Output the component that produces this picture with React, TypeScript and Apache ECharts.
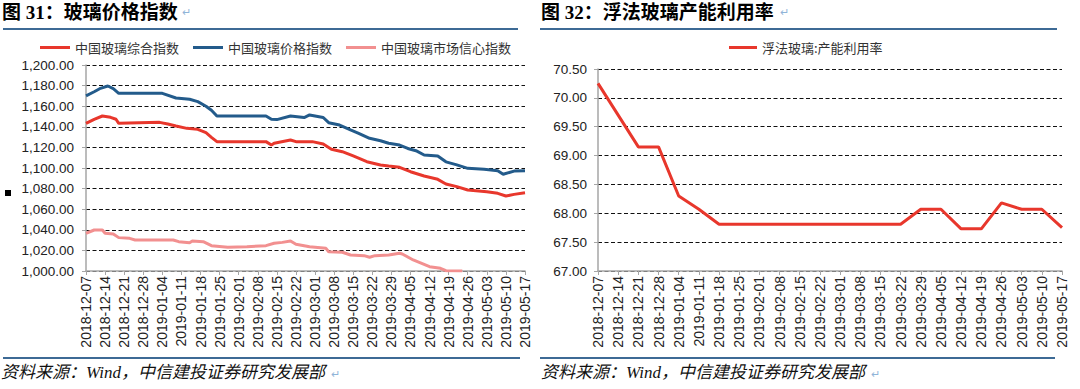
import React, { useEffect, useRef } from "react";
import * as echarts from "echarts";

// ---------- data ----------
const START_DATE = "2018-12-07";

const weekLabels = [
  "2018-12-07", "2018-12-14", "2018-12-21", "2018-12-28", "2019-01-04", "2019-01-11",
  "2019-01-18", "2019-01-25", "2019-02-01", "2019-02-08", "2019-02-15", "2019-02-22",
  "2019-03-01", "2019-03-08", "2019-03-15", "2019-03-22", "2019-03-29", "2019-04-05",
  "2019-04-12", "2019-04-19", "2019-04-26", "2019-05-03", "2019-05-10", "2019-05-17",
];

const compositeName = "中国玻璃综合指数";
const priceName = "中国玻璃价格指数";
const confidenceName = "中国玻璃市场信心指数";
const utilName = "浮法玻璃:产能利用率";

const compositeIndex: [string, number][] = [
  ["2018-12-07", 1143.4], ["2018-12-10", 1147.3], ["2018-12-13", 1150.5], ["2018-12-16", 1149.2],
  ["2018-12-18", 1147.3], ["2018-12-19", 1143.4], ["2019-01-03", 1144.3], ["2019-01-06", 1142.7],
  ["2019-01-09", 1140.8], ["2019-01-13", 1138.5], ["2019-01-17", 1137.5], ["2019-01-20", 1134.3],
  ["2019-01-22", 1129.8], ["2019-01-24", 1125.6], ["2019-02-11", 1125.6], ["2019-02-13", 1122.3],
  ["2019-02-14", 1124.0], ["2019-02-20", 1127.2], ["2019-02-22", 1125.6], ["2019-02-28", 1125.6],
  ["2019-03-04", 1123.3], ["2019-03-07", 1118.2], ["2019-03-11", 1115.8], ["2019-03-15", 1111.7],
  ["2019-03-20", 1106.1], ["2019-03-25", 1102.9], ["2019-03-28", 1101.9], ["2019-04-01", 1100.7],
  ["2019-04-05", 1096.4], ["2019-04-10", 1092.2], ["2019-04-15", 1089.0], ["2019-04-18", 1084.5],
  ["2019-04-22", 1081.9], ["2019-04-26", 1078.6], ["2019-05-03", 1077.0], ["2019-05-07", 1075.4],
  ["2019-05-10", 1072.8], ["2019-05-13", 1074.4], ["2019-05-17", 1076.0],
];

const priceIndex: [string, number][] = [
  ["2018-12-07", 1170.0], ["2018-12-10", 1174.0], ["2018-12-12", 1177.0], ["2018-12-15", 1179.6],
  ["2018-12-17", 1177.0], ["2018-12-19", 1172.5], ["2019-01-04", 1172.5], ["2019-01-09", 1168.0],
  ["2019-01-14", 1166.7], ["2019-01-17", 1164.4], ["2019-01-20", 1160.0], ["2019-01-22", 1156.0],
  ["2019-01-24", 1150.5], ["2019-02-11", 1150.5], ["2019-02-13", 1147.3], ["2019-02-15", 1147.0],
  ["2019-02-20", 1150.5], ["2019-02-25", 1149.0], ["2019-02-27", 1151.5], ["2019-03-04", 1149.0],
  ["2019-03-06", 1144.0], ["2019-03-10", 1141.7], ["2019-03-14", 1137.0], ["2019-03-17", 1133.7],
  ["2019-03-21", 1128.8], ["2019-03-25", 1126.5], ["2019-03-28", 1124.0], ["2019-04-01", 1122.3],
  ["2019-04-04", 1119.0], ["2019-04-07", 1116.8], ["2019-04-10", 1112.6], ["2019-04-15", 1111.7],
  ["2019-04-18", 1106.0], ["2019-04-22", 1103.0], ["2019-04-26", 1099.7], ["2019-05-02", 1098.7],
  ["2019-05-07", 1097.4], ["2019-05-09", 1093.9], ["2019-05-13", 1097.0], ["2019-05-17", 1097.4],
];

const confidenceIndex: [string, number][] = [
  ["2018-12-07", 1036.6], ["2018-12-10", 1039.8], ["2018-12-13", 1039.8], ["2018-12-14", 1036.6],
  ["2018-12-17", 1036.0], ["2018-12-19", 1032.4], ["2018-12-23", 1031.7], ["2018-12-25", 1030.1],
  ["2019-01-08", 1030.1], ["2019-01-10", 1028.5], ["2019-01-14", 1027.5], ["2019-01-15", 1029.1],
  ["2019-01-19", 1028.5], ["2019-01-22", 1024.6], ["2019-01-28", 1023.0], ["2019-02-04", 1023.6],
  ["2019-02-11", 1024.6], ["2019-02-14", 1026.9], ["2019-02-17", 1027.8], ["2019-02-20", 1029.1],
  ["2019-02-22", 1025.9], ["2019-02-27", 1023.6], ["2019-03-05", 1022.0], ["2019-03-06", 1018.7],
  ["2019-03-11", 1018.2], ["2019-03-14", 1015.5], ["2019-03-19", 1014.9], ["2019-03-21", 1013.3],
  ["2019-03-23", 1014.9], ["2019-03-28", 1015.5], ["2019-04-01", 1017.2], ["2019-04-02", 1016.5],
  ["2019-04-06", 1010.7], ["2019-04-12", 1004.2], ["2019-04-16", 1002.6], ["2019-04-18", 1000.3],
  ["2019-04-24", 1000.0],
];

const utilization = [
  70.25, 69.7, 69.15, 69.15, 68.3, 68.07, 67.81, 67.81, 67.81, 67.81, 67.81, 67.81,
  67.81, 67.81, 67.81, 67.81, 68.07, 68.07, 67.73, 67.73, 68.18, 68.07, 68.07, 67.75,
];

// ---------- helpers ----------
const DAY = 86400000;
const dayOf = (d: string) => Math.round((Date.parse(d) - Date.parse(START_DATE)) / DAY);
const toXY = (arr: [string, number][]) => arr.map(([d, v]) => [dayOf(d), v]);

const RED = "#e8372c";
const BLUE = "#235b8b";
const PINK = "#f29090";
const AXIS_GRAY = "#a6a6a6";
const TITLE_LINE = "#3d6a95";
const LATIN_SANS = "'Liberation Sans', Arial, 'Noto Sans CJK SC', sans-serif";
const CJK = "'Noto Sans CJK SC', 'Liberation Sans', sans-serif";

const splitLine = {
  show: true,
  lineStyle: { color: "#111", width: 1, type: [4, 2.5] as any },
};

export default function App() {
  const ref = useRef<HTMLDivElement>(null);

  useEffect(() => {
    document.body.style.margin = "0";
    if (!ref.current) return;
    const chart = echarts.init(ref.current, null, { renderer: "svg" });

    const xLabelStyle = {
      rotate: 90,
      fontSize: 14,
      color: "#222",
      fontFamily: LATIN_SANS,
      margin: 5,
    };

    const option: any = {
      animation: false,
      backgroundColor: "#fff",
      grid: [
        { left: 86, top: 65, width: 439, height: 206, outerBoundsMode: "none" },
        { left: 598, top: 69, width: 464, height: 202, outerBoundsMode: "none" },
      ],
      legend: [
        {
          left: 35,
          top: 36,
          itemWidth: 30,
          itemHeight: 3,
          itemGap: 14,
          icon: "rect",
          data: [compositeName, priceName, confidenceName],
          textStyle: { fontSize: 13, color: "#333", fontFamily: CJK },
        },
        {
          left: 724,
          top: 36,
          itemWidth: 28,
          itemHeight: 3,
          icon: "rect",
          data: [utilName],
          textStyle: { fontSize: 13, color: "#333", fontFamily: CJK },
        },
      ],
      xAxis: [
        {
          gridIndex: 0,
          type: "value",
          min: 0,
          max: 161,
          interval: 7,
          axisLine: { show: true, onZero: false, lineStyle: { color: AXIS_GRAY, width: 1.5 } },
          axisTick: { show: true, length: 4, lineStyle: { color: AXIS_GRAY } },
          splitLine: { show: false },
          axisLabel: {
            ...xLabelStyle,
            formatter: (v: number) => (v % 7 === 0 ? weekLabels[v / 7] ?? "" : ""),
          },
        },
        {
          gridIndex: 1,
          type: "category",
          boundaryGap: false,
          data: weekLabels,
          axisLine: { show: true, lineStyle: { color: AXIS_GRAY, width: 1.5 } },
          axisTick: { show: true, length: 4, interval: 0, lineStyle: { color: AXIS_GRAY } },
          axisLabel: { ...xLabelStyle, interval: 0 },
        },
      ],
      yAxis: [
        {
          gridIndex: 0,
          type: "value",
          min: 1000,
          max: 1200,
          interval: 20,
          axisLine: { show: true, lineStyle: { color: AXIS_GRAY, width: 1.5 } },
          axisTick: { show: true, length: 4, lineStyle: { color: AXIS_GRAY } },
          splitLine,
          axisLabel: {
            fontSize: 13.5,
            color: "#222",
            fontFamily: LATIN_SANS,
            margin: 12,
            formatter: (v: number) =>
              v.toLocaleString("en-US", { minimumFractionDigits: 2, maximumFractionDigits: 2 }),
          },
        },
        {
          gridIndex: 1,
          type: "value",
          min: 67,
          max: 70.5,
          interval: 0.5,
          axisLine: { show: true, lineStyle: { color: AXIS_GRAY, width: 1.5 } },
          axisTick: { show: true, length: 4, lineStyle: { color: AXIS_GRAY } },
          splitLine,
          axisLabel: {
            fontSize: 13.5,
            color: "#222",
            fontFamily: LATIN_SANS,
            margin: 11,
            formatter: (v: number) => v.toFixed(2),
          },
        },
      ],
      series: [
        {
          name: compositeName,
          type: "line",
          xAxisIndex: 0,
          yAxisIndex: 0,
          data: toXY(compositeIndex),
          showSymbol: false,
          color: RED,
          lineStyle: { width: 3, color: RED },
        },
        {
          name: priceName,
          type: "line",
          xAxisIndex: 0,
          yAxisIndex: 0,
          data: toXY(priceIndex),
          showSymbol: false,
          color: BLUE,
          lineStyle: { width: 3, color: BLUE },
        },
        {
          name: confidenceName,
          type: "line",
          xAxisIndex: 0,
          yAxisIndex: 0,
          data: toXY(confidenceIndex),
          showSymbol: false,
          color: PINK,
          lineStyle: { width: 3, color: PINK },
        },
        {
          name: utilName,
          type: "line",
          xAxisIndex: 1,
          yAxisIndex: 1,
          data: utilization,
          showSymbol: false,
          color: RED,
          lineStyle: { width: 3, color: RED },
        },
      ],
      graphic: [
        {
          type: "text",
          left: 2,
          top: 3,
          style: {
            text: "图 31：玻璃价格指数",
            fontSize: 19,
            fontWeight: "bold",
            fontFamily: "'Liberation Serif', 'Noto Sans CJK SC', serif",
            fill: "#000",
          },
        },
        {
          type: "text",
          left: 182,
          top: 5,
          style: { text: "↵", fontSize: 11, fill: "#8fb4d8", fontFamily: CJK },
        },
        {
          type: "text",
          left: 541,
          top: 3,
          style: {
            text: "图 32：浮法玻璃产能利用率",
            fontSize: 19,
            fontWeight: "bold",
            fontFamily: "'Liberation Serif', 'Noto Sans CJK SC', serif",
            fill: "#000",
          },
        },
        {
          type: "text",
          left: 780,
          top: 5,
          style: { text: "↵", fontSize: 11, fill: "#8fb4d8", fontFamily: CJK },
        },
        {
          type: "line",
          shape: { x1: 3, y1: 29, x2: 518, y2: 29 },
          style: { stroke: TITLE_LINE, lineWidth: 2 },
        },
        {
          type: "line",
          shape: { x1: 540, y1: 29, x2: 1057, y2: 29 },
          style: { stroke: TITLE_LINE, lineWidth: 2 },
        },
        {
          type: "line",
          shape: { x1: 3, y1: 358, x2: 520, y2: 358 },
          style: { stroke: TITLE_LINE, lineWidth: 2 },
        },
        {
          type: "line",
          shape: { x1: 540, y1: 358, x2: 1055, y2: 358 },
          style: { stroke: TITLE_LINE, lineWidth: 2 },
        },
        {
          type: "rect",
          shape: { x: 5, y: 190, width: 6, height: 6 },
          style: { fill: "#000" },
        },
        {
          type: "text",
          left: 1,
          top: 364,
          style: {
            text: "资料来源：Wind，中信建投证券研究发展部",
            fontSize: 17,
            fontStyle: "italic",
            fontFamily: "'Liberation Serif', 'Noto Sans CJK SC', serif",
            fill: "#111",
          },
        },
        {
          type: "text",
          left: 331,
          top: 367,
          style: { text: "↵", fontSize: 11, fill: "#8fb4d8", fontFamily: CJK },
        },
        {
          type: "text",
          left: 541,
          top: 364,
          style: {
            text: "资料来源：Wind，中信建投证券研究发展部",
            fontSize: 17,
            fontStyle: "italic",
            fontFamily: "'Liberation Serif', 'Noto Sans CJK SC', serif",
            fill: "#111",
          },
        },
        {
          type: "text",
          left: 871,
          top: 367,
          style: { text: "↵", fontSize: 11, fill: "#8fb4d8", fontFamily: CJK },
        },
      ],
    };

    chart.setOption(option);
    return () => chart.dispose();
  }, []);

  return <div ref={ref} style={{ width: 1080, height: 389 }} />;
}
